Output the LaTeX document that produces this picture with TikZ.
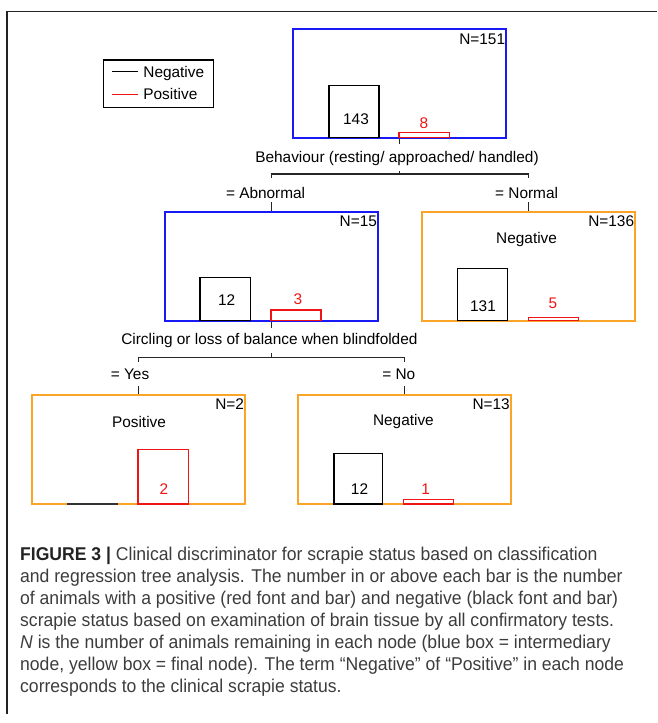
\documentclass[tikz,border=0pt]{standalone}
\usepackage{fontspec}
\setmainfont{Liberation Sans}
\newfontfamily\capfont[FakeStretch=0.95]{Liberation Sans}
\definecolor{boxblue}{RGB}{25,25,245}
\definecolor{boxorange}{RGB}{250,165,40}
\definecolor{barred}{RGB}{240,20,20}
\definecolor{captext}{RGB}{60,60,60}
\definecolor{capbold}{RGB}{35,35,35}
\definecolor{framegray}{RGB}{35,35,35}
\tikzset{
  lbl/.style={inner sep=0pt, text height=11pt, text depth=0pt, font=\fontsize{15.4}{16}\selectfont},
  poslbl/.style={lbl, text=barred},
  nlbl/.style={lbl, anchor=north east},
  treebox/.style={line width=1.6pt, minimum width=213pt, minimum height=109pt, inner sep=0pt},
  bluebox/.style={treebox, draw=boxblue},
  orangebox/.style={treebox, draw=boxorange},
  conn/.style={draw=black!85, line width=1.1pt},
  negbar/.style={draw=black, line width=1.2pt},
  posbar/.style={draw=barred, line width=1.2pt},
  captionline/.style={inner sep=0pt, anchor=base west, font=\capfont\fontsize{18.5}{22}\selectfont, text=captext},
}
\begin{document}
\begin{tikzpicture}[x=1pt,y=-1pt]
\useasboundingbox (0,0) rectangle (657,723);
% frame
\draw[line width=1.5pt, draw=framegray] (7,714) -- (7,11.5) -- (657,11.5);

% legend
\node[draw=black, line width=1.3pt, minimum width=110pt, minimum height=47.7pt, inner sep=0pt] (leg) at (158.5,83.85) {};
\coordinate (legneg) at (112,71.7);
\coordinate (legpos) at (112,94.3);
\draw[negbar] (legneg) -- ++(26,0);
\draw[posbar] (legpos) -- ++(26,0);
\node[lbl, anchor=west] (legnegtxt) at (143.2,71.7) {Negative};
\node[lbl, anchor=west] (legpostxt) at (143.2,94.3) {Positive};

% tree boxes
\node[bluebox] (root) at (399.5,83.2) {};
\node[bluebox] (ab) at (271.3,266.2) {};
\node[orangebox] (nm) at (528.5,266.2) {};
\node[orangebox] (yes) at (138.4,449.5) {};
\node[orangebox] (no) at (404.2,449.5) {};

% N labels
\node[nlbl] (nroot) at ([xshift=-1.5pt,yshift=-5pt]root.north east) {N=151};
\node[nlbl] (nab) at ([xshift=-1.5pt,yshift=-4pt]ab.north east) {N=15};
\node[nlbl] (nnm) at ([xshift=-1.5pt,yshift=-4pt]nm.north east) {N=136};
\node[nlbl] (nyes) at ([xshift=-1.5pt,yshift=-4pt]yes.north east) {N=2};
\node[nlbl] (nno) at ([xshift=-1.5pt,yshift=-4pt]no.north east) {N=13};

% class labels
\node[lbl] (cnm) at (526.6,237.7) {Negative};
\node[lbl] (cyes) at (139,421.7) {Positive};
\node[lbl] (cno) at (403.4,420.3) {Negative};

% bars: root
\draw[negbar] (329,137.7) rectangle (379,85.3);
\draw[posbar] (399,137.7) rectangle (449.5,132.7);
\node[lbl] (v143) at (356,119) {143};
\node[poslbl] (v8) at (424,122.7) {8};
% bars: abnormal
\draw[negbar] (200,320.7) rectangle (250.5,277.3);
\draw[posbar] (271,320.7) rectangle (321,310);
\node[lbl] (v12a) at (226.6,300) {12};
\node[poslbl] (v3) at (298,299.3) {3};
% bars: normal
\draw[negbar] (457.5,320.7) rectangle (507.7,268.3);
\draw[posbar] (528.7,320.7) rectangle (578.5,317.7);
\node[lbl] (v131) at (483,305.7) {131};
\node[poslbl] (v5) at (553,302.7) {5};
% bars: yes
\draw[draw=black!80, line width=1.6pt] (67,504) -- (118,504);
\draw[posbar] (138,504) rectangle (188.5,449.7);
\node[poslbl] (v2) at (163.8,489.3) {2};
% bars: no
\draw[negbar] (334,504) rectangle (382.5,453.3);
\draw[posbar] (403.4,504) rectangle (453.7,499.3);
\node[lbl] (v12b) at (359.5,489.3) {12};
\node[poslbl] (v1) at (425.6,489) {1};

% first split
\draw[conn] (root.south) -- ++(0,5.5);
\node[lbl] (q1) at (397,156.7) {Behaviour (resting/ approached/ handled)};
\coordinate (j1) at (399.5,174);
\draw[conn] (j1) -- ++(0,-3.5);
\draw[conn] ([yshift=-4pt]j1 -| ab.north) -- (j1 -| ab.north) -- (j1 -| nm.north) -- ([yshift=-4pt]j1 -| nm.north);
\node[lbl] (s1a) at (265.6,192.7) {= Abnormal};
\node[lbl] (s1b) at (526.6,192.7) {= Normal};
\draw[conn] (ab.north) -- ++(0,-8.7);
\draw[conn] (nm.north) -- ++(0,-8.7);

% second split
\draw[conn] (ab.south) -- ++(0,6);
\node[lbl] (q2) at (269.4,339) {Circling or loss of balance when blindfolded};
\coordinate (j2) at (271.3,357.7);
\draw[conn] (j2) -- ++(0,-4.5);
\draw[conn] ([yshift=-4pt]j2 -| yes.north) -- (j2 -| yes.north) -- (j2 -| no.north) -- ([yshift=-4pt]j2 -| no.north);
\node[lbl] (s2a) at (130,374.3) {= Yes};
\node[lbl] (s2b) at (398.8,374.3) {= No};
\draw[conn] (yes.north) -- ++(0,-8);
\draw[conn] (no.north) -- ++(0,-8);

% caption
\node[captionline] (cap1) at (20,560.5) {\textcolor{capbold}{\textbf{FIGURE 3 |}} Clinical discriminator for scrapie status based on classification};
\node[captionline] (cap2) at (20,582.5) {and regression tree analysis. The number in or above each bar is the number};
\node[captionline] (cap3) at (20,604.5) {of animals with a positive (red font and bar) and negative (black font and bar)};
\node[captionline] (cap4) at (20,626.5) {scrapie status based on examination of brain tissue by all confirmatory tests.};
\node[captionline] (cap5) at (20,648.5) {\textit{N} is the number of animals remaining in each node (blue box = intermediary};
\node[captionline] (cap6) at (20,670.5) {node, yellow box = final node). The term “Negative” of “Positive” in each node};
\node[captionline] (cap7) at (20,692.5) {corresponds to the clinical scrapie status.};
\end{tikzpicture}
\end{document}
